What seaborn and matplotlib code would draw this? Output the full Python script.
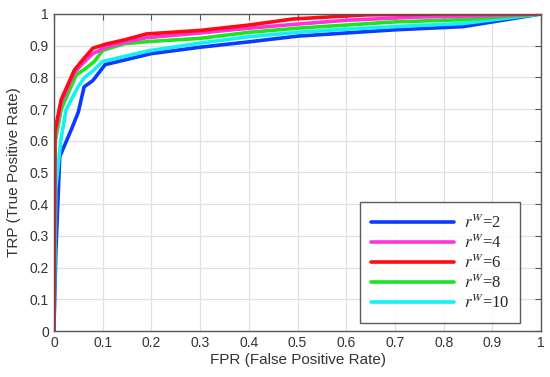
import numpy as np
import pandas as pd
import matplotlib
matplotlib.use('Agg')
import matplotlib.pyplot as plt
import seaborn as sns

# ROC curves for each r^W setting
fpr_2 = [0, 0.004, 0.012, 0.037, 0.05, 0.062, 0.08, 0.105, 0.2, 0.3, 0.4, 0.5, 0.6, 0.7, 0.84, 1.0]
tpr_2 = [0, 0.25, 0.55, 0.64, 0.69, 0.77, 0.79, 0.84, 0.875, 0.895, 0.912, 0.93, 0.94, 0.95, 0.96, 1.0]

fpr_4 = [0, 0.002, 0.015, 0.042, 0.06, 0.08, 0.107, 0.144, 0.19, 0.3, 0.4, 0.5, 0.6, 0.74, 0.9, 1.0]
tpr_4 = [0, 0.62, 0.72, 0.815, 0.845, 0.875, 0.895, 0.91, 0.925, 0.94, 0.955, 0.968, 0.98, 0.99, 0.995, 1.0]

fpr_6 = [0, 0.002, 0.015, 0.042, 0.059, 0.08, 0.107, 0.144, 0.19, 0.3, 0.4, 0.49, 0.64, 0.8, 1.0]
tpr_6 = [0, 0.63, 0.73, 0.823, 0.855, 0.892, 0.905, 0.918, 0.937, 0.948, 0.965, 0.984, 0.997, 1.0, 1.0]

fpr_8 = [0, 0.003, 0.015, 0.046, 0.066, 0.083, 0.1, 0.144, 0.195, 0.3, 0.4, 0.5, 0.6, 0.7, 0.84, 1.0]
tpr_8 = [0, 0.6, 0.7, 0.808, 0.829, 0.85, 0.885, 0.906, 0.913, 0.923, 0.942, 0.955, 0.965, 0.975, 0.982, 1.0]

fpr_10 = [0, 0.004, 0.014, 0.025, 0.049, 0.063, 0.08, 0.1, 0.195, 0.3, 0.4, 0.5, 0.6, 0.7, 0.84, 1.0]
tpr_10 = [0, 0.45, 0.6, 0.697, 0.769, 0.8, 0.82, 0.85, 0.884, 0.908, 0.928, 0.942, 0.952, 0.96, 0.97, 1.0]

labels = [r'$r^{W}$=2', r'$r^{W}$=4', r'$r^{W}$=6', r'$r^{W}$=8', r'$r^{W}$=10']
colors = ['#0a3cff', '#ff33dd', '#ff0a14', '#18e61e', '#14f0f5']

frames = []
for lab, xs, ys in zip(labels,
                       [fpr_2, fpr_4, fpr_6, fpr_8, fpr_10],
                       [tpr_2, tpr_4, tpr_6, tpr_8, tpr_10]):
    frames.append(pd.DataFrame({'FPR': xs, 'TPR': ys, 'rw': lab}))
df = pd.concat(frames, ignore_index=True)

sns.set_style('white')
plt.rcParams['font.family'] = ['Liberation Sans', 'DejaVu Sans']
plt.rcParams['mathtext.fontset'] = 'stix'

fig = plt.figure(figsize=(5.5, 3.77), dpi=100)
ax = fig.add_axes([0.098, 0.122, 0.886, 0.841])

# draw back to front so red ends on top like the original
draw_order = [labels[0], labels[4], labels[3], labels[1], labels[2]]
for lab in draw_order:
    sub = df[df['rw'] == lab]
    sns.lineplot(data=sub, x='FPR', y='TPR', sort=False, estimator=None,
                 color=colors[labels.index(lab)], lw=2.6, ax=ax, label=lab)

ax.set_xlim(0, 1)
ax.set_ylim(0, 1)
ax.set_xticks(np.arange(0, 1.01, 0.1))
ax.set_yticks(np.arange(0, 1.01, 0.1))
ticklabs = ['0', '0.1', '0.2', '0.3', '0.4', '0.5', '0.6', '0.7', '0.8', '0.9', '1']
ax.set_xticklabels(ticklabs)
ax.set_yticklabels(ticklabs)
ax.grid(True, color='#e0e0e0', lw=0.9)
ax.tick_params(direction='in', top=True, right=True, length=4, color='#555555',
               labelsize=10, labelcolor='#333333')
for s in ax.spines.values():
    s.set_color('#555555')
    s.set_linewidth(1.0)

ax.set_xlabel('FPR (False Positive Rate)', fontsize=11, color='#333333', labelpad=2)
ax.set_ylabel('TRP (True Positive Rate)', fontsize=11, color='#333333', labelpad=6)

handles, labs = ax.get_legend_handles_labels()
hmap = dict(zip(labs, handles))
leg = ax.legend([hmap[l] for l in labels], labels, loc='lower right',
                bbox_to_anchor=(0.957, 0.025), borderaxespad=0,
                handlelength=5.0, frameon=True, fancybox=False,
                edgecolor='#333333', borderpad=0.65, labelspacing=0.08,
                handletextpad=0.6,
                prop={'family': 'Liberation Serif', 'size': 12})
leg.get_frame().set_linewidth(1.0)

fig.savefig('out.png', dpi=100)
